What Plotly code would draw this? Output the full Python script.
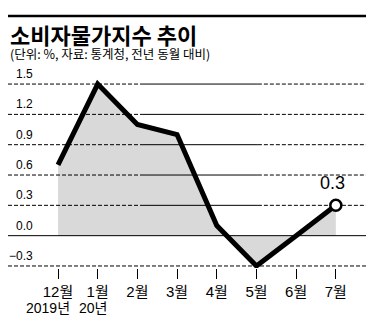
import plotly.graph_objects as go

months = ["12월", "1월", "2월", "3월", "4월", "5월", "6월", "7월"]
years = ["2019년", "20년"]
values = [0.7, 1.5, 1.1, 1.0, 0.1, -0.3, 0.0, 0.3]
y_ticks = [-0.3, 0.0, 0.3, 0.6, 0.9, 1.2, 1.5]
y_tick_labels = ["\u22120.3", "0.0", "0.3", "0.6", "0.9", "1.2", "1.5"]
title = "소비자물가지수 추이"
subtitle = "(단위: %, 자료: 통계청, 전년 동월 대비)"

FONT = "Liberation Sans Narrow, Arial Narrow, Liberation Sans, Noto Sans CJK KR"
KFONT = "Noto Sans CJK KR, Noto Sans, sans-serif"
xs = list(range(len(months)))

# plot area spans the whole height (8px .. 268px); header lives inside it
Y_RANGE = [-0.32, 2.2525]

fig = go.Figure()
fig.add_trace(go.Scatter(
    x=xs, y=values, mode="lines", fill="tozeroy",
    fillcolor="rgba(0,0,0,0.15)",
    line=dict(color="black", width=5), hoverinfo="skip",
))
fig.add_trace(go.Scatter(
    x=[xs[-1]], y=[values[-1]], mode="markers",
    marker=dict(size=11, color="white", line=dict(color="black", width=2.5)),
    hoverinfo="skip", cliponaxis=False,
))

DASH = "4px,2px"
SEG = [(0.0, 0.377, DASH), (0.377, 0.698, "solid"), (0.698, 1.0, DASH)]
shapes = []
for v in y_ticks:
    if v == 0:
        segs = [(0.0, 1.0, "solid")]
    elif v == y_ticks[0]:
        segs = [(0.0, 1.0, DASH)]
    else:
        segs = SEG
    for a, b, d in segs:
        shapes.append(dict(type="line", xref="paper", yref="y", x0=a, x1=b, y0=v, y1=v,
                           line=dict(color="black", width=1, dash=d), layer="below"))
# top rule
shapes.append(dict(type="rect", xref="paper", yref="paper", x0=0, x1=1,
                   y0=0.9645, y1=0.9745,
                   fillcolor="black", line=dict(width=0), layer="above"))

annotations = []
for v, t in zip(y_ticks, y_tick_labels):
    annotations.append(dict(
        x=0.075, xref="paper", y=v, yref="y", text=t, showarrow=False,
        xanchor="right", yanchor="bottom", yshift=1,
        font=dict(family=FONT, size=12, color="black"),
    ))
for i, yr in enumerate(years):
    annotations.append(dict(
        x=xs[i], xref="x", y=0, yref="paper", text=yr, showarrow=False,
        xanchor="center", yanchor="top", xshift=-10 if i == 0 else -5, yshift=-30,
        font=dict(family=FONT, size=14, color="black"),
    ))
annotations.append(dict(
    x=xs[-1], xref="x", y=values[-1], yref="y", text=f"{values[-1]:.1f}",
    showarrow=False, xanchor="center", yanchor="bottom", yshift=10, xshift=-3,
    font=dict(family=FONT, size=18, color="black"),
))
annotations.append(dict(x=0, xref="paper", y=0.9000, yref="paper", text="<b>" + title + "</b>",
                        showarrow=False, xanchor="left", yanchor="middle",
                        font=dict(family=KFONT, size=22, color="black", weight=900)))
annotations.append(dict(x=0, xref="paper", y=0.8250, yref="paper", text=subtitle,
                        showarrow=False, xanchor="left", yanchor="middle",
                        font=dict(family=KFONT, size=12.5, color="black")))

fig.update_layout(
    width=369, height=332,
    margin=dict(l=8, r=3, t=8, b=64),
    paper_bgcolor="white", plot_bgcolor="white",
    showlegend=False,
    shapes=shapes, annotations=annotations,
    xaxis=dict(range=[-1.26, 7.76], tickmode="array", tickvals=xs, ticktext=months,
               ticks="outside", ticklen=10, tickcolor="black", tickwidth=1,
               showgrid=False, zeroline=False, showline=False,
               tickfont=dict(family=FONT, size=15, color="black"), fixedrange=True),
    yaxis=dict(range=Y_RANGE, showticklabels=False, showgrid=False,
               zeroline=False, showline=False, fixedrange=True),
)

fig.write_html("out.html")
